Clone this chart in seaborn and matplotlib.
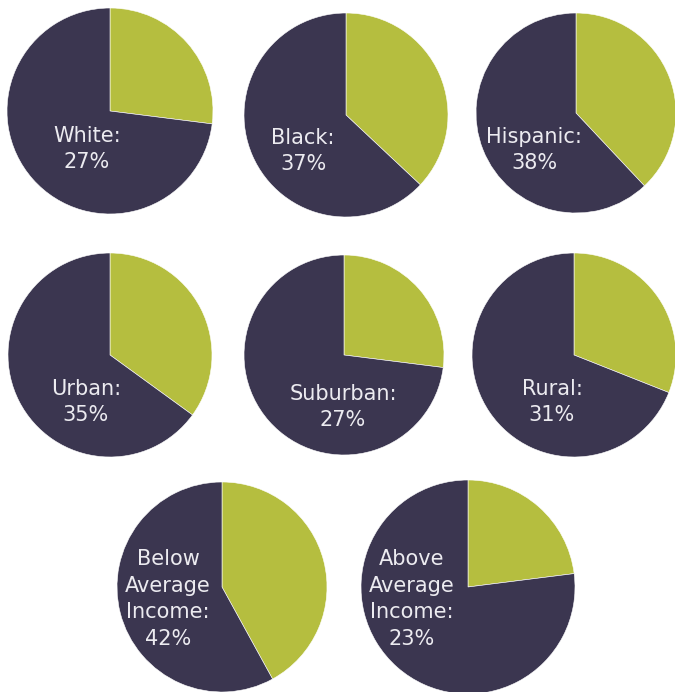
import matplotlib
matplotlib.use("Agg")
import matplotlib.pyplot as plt
import seaborn as sns

sns.set_theme(style="white")
plt.rcParams['font.family'] = ['DejaVu Sans']

# Data
categories = ["White", "Black", "Hispanic", "Urban", "Suburban", "Rural",
              "Below\nAverage\nIncome", "Above\nAverage\nIncome"]
percentages = [27, 37, 38, 35, 27, 31, 42, 23]

# Layout (pixels): pie centers, radii, label offsets
W, H = 675, 692
centers = [(110, 111), (346, 115), (576, 113),
           (110, 355), (344, 355), (574, 355),
           (222, 587), (468, 587)]
radii = [103, 102, 100, 102, 100, 102, 105, 107]
label_offsets = [(-23, 38), (-43, 36), (-42, 37),
                 (-24, 47), (-1, 52), (-22, 47),
                 (-54, 12), (-56, 12)]

GREEN = "#b5be3f"
DARK = "#3b3650"
TEXT = "#ecebf0"

fig = plt.figure(figsize=(W / 100, H / 100), dpi=100)
fig.patch.set_facecolor("white")

for cat, pct, (cx, cy), r, (dx, dy) in zip(categories, percentages, centers, radii, label_offsets):
    ax = fig.add_axes([(cx - r) / W, 1 - (cy + r) / H, 2 * r / W, 2 * r / H])
    ax.pie([pct, 100 - pct], colors=[GREEN, DARK], startangle=90,
           counterclock=False, radius=1,
           wedgeprops=dict(linewidth=0.4, edgecolor="white"))
    ax.set_xlim(-1.0, 1.0)
    ax.set_ylim(-1.0, 1.0)
    ax.set_aspect("equal")
    ax.axis("off")
    ax.text(dx / r, -dy / r, f"{cat}:\n{pct}%", ha="center", va="center",
            color=TEXT, fontsize=15, linespacing=1.4, fontweight="normal")

fig.savefig("out.png", dpi=100, facecolor="white")
